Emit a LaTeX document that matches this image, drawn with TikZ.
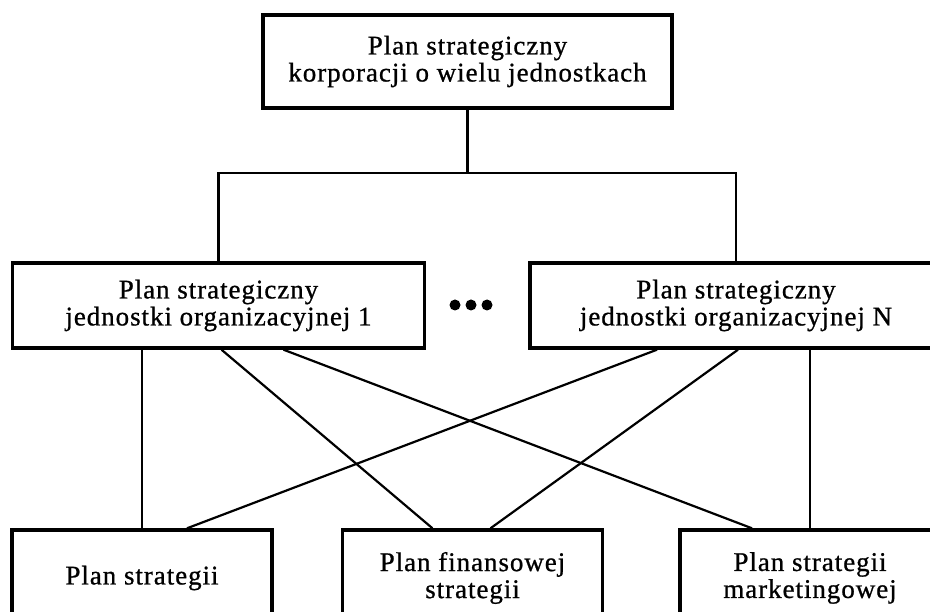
\documentclass[tikz,border=0pt]{standalone}
\usepackage{fontspec}
\setmainfont[LetterSpace=3.5, FakeBold=0.8]{Liberation Serif}
\usetikzlibrary{positioning,calc}
\tikzset{
  planbox/.style={draw, line width=3.4pt, align=center, inner sep=0pt, font=\fontsize{27}{27}\selectfont},
  planlink/.style={line width=2.2pt},
}

\begin{document}
\begin{tikzpicture}[
  x=1pt, y=-1pt,
  top/.style={planbox, minimum width=409pt, minimum height=93pt},
  unit/.style={planbox, minimum width=412pt, minimum height=85pt},
  part/.style={planbox, minimum width=260pt, minimum height=96pt},
]
  \useasboundingbox (0,0) rectangle (930,612);
  \clip (0,0) rectangle (930,612);

  \node[top]  (corp) at (467.5,61.5) {Plan strategiczny\\korporacji o wielu jednostkach};

  \node[unit] (unit1) at (218.5,305.5) {Plan strategiczny\\jednostki organizacyjnej 1};
  \node[unit] (unitN) at (736,305.5)   {Plan strategiczny\\jednostki organizacyjnej N};

  \node[part] (strat) at (142,578)   {Plan strategii};
  \node[part] (fin)   at (472.5,578) {Plan finansowej\\strategii};
  \node[part] (mark)  at (810,578)   {Plan strategii\\marketingowej};

  \coordinate (bus) at (467.5,173);
  \coordinate (gap) at (471,305);

  \draw[planlink] (corp.south) -- (bus);
  \draw[planlink] (unit1.north) |- (bus) -| (unitN.north);

  \foreach \dx in {-16,0,16}
    \fill ($(gap)+(\dx,0)$) circle (5.5);

  \draw[planlink] (strat.north |- unit1.south) -- (strat.north);
  \draw[planlink] ([xshift=3]unit1.south) -- ([xshift=-40]fin.north);
  \draw[planlink] ([xshift=65]unit1.south) -- ([xshift=-58]mark.north);

  \draw[planlink] ([xshift=-79]unitN.south) -- ([xshift=45]strat.north);
  \draw[planlink] ([xshift=2]unitN.south) -- ([xshift=18]fin.north);
  \draw[planlink] (mark.north |- unitN.south) -- (mark.north);
\end{tikzpicture}
\end{document}
